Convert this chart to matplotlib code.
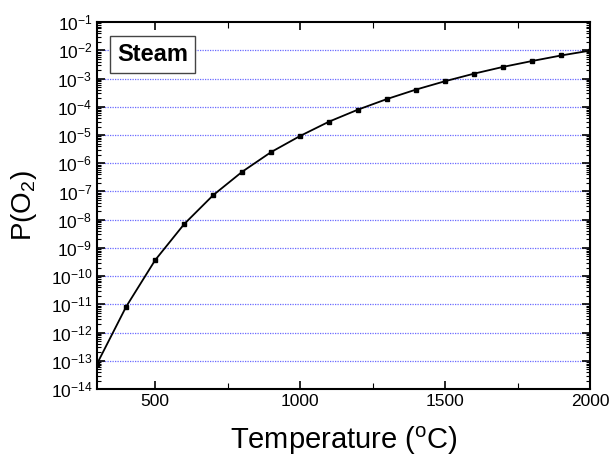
import numpy as np
import matplotlib
matplotlib.use('Agg')
import matplotlib.pyplot as plt
from matplotlib.ticker import LogLocator, NullFormatter, MultipleLocator

plt.rcParams['font.family'] = ['Liberation Sans', 'DejaVu Sans']
plt.rcParams['mathtext.fontset'] = 'custom'
plt.rcParams['mathtext.rm'] = 'Liberation Sans'

temperature = [300, 400, 500, 600, 700, 800, 900, 1000, 1100, 1200, 1300,
               1400, 1500, 1600, 1700, 1800, 1900, 2000]
p_o2 = [8e-14, 8.3e-12, 3.7e-10, 7e-9, 7.4e-8, 5e-7, 2.5e-6, 9.3e-6, 3e-5,
        8e-5, 1.9e-4, 4.1e-4, 8.1e-4, 1.5e-3, 2.6e-3, 4.2e-3, 6.6e-3, 9.8e-3]
grid_levels = [1e-13, 1e-12, 1e-11, 1e-10, 1e-9, 1e-8, 1e-7, 1e-6, 1e-5,
               1e-4, 1e-3, 1e-2]

fig = plt.figure(figsize=(6.11, 4.61), dpi=100)
ax = fig.add_axes([0.159, 0.156, 0.807, 0.796])

for g in grid_levels:
    ax.axhline(g, color='#6a6aff', linestyle=(0, (1, 1)), linewidth=0.9, zorder=1)

ax.plot(temperature, p_o2, color='black', linewidth=1.3, marker='s',
        markersize=3.5, zorder=3)

ax.set_yscale('log')
ax.set_xlim(300, 2000)
ax.set_ylim(1e-14, 1e-1)
ax.xaxis.set_major_locator(MultipleLocator(500))
ax.xaxis.set_minor_locator(MultipleLocator(250))
ax.yaxis.set_major_locator(LogLocator(base=10, numticks=20))
ax.yaxis.set_minor_locator(LogLocator(base=10, subs=np.arange(2, 10), numticks=20))
ax.yaxis.set_minor_formatter(NullFormatter())
ax.tick_params(which='both', direction='in', top=True, right=True, labelsize=12.5)
ax.tick_params(which='major', length=6, width=1.2)
ax.tick_params(which='minor', length=3, width=0.8)
ax.tick_params(axis='x', which='minor', length=4)
for s in ax.spines.values():
    s.set_linewidth(1.5)

ax.set_xlabel('Temperature ($\\mathregular{^oC}$)', fontsize=21, labelpad=11)
ax.set_ylabel('P(O$\\mathregular{_2}$)', fontsize=20, labelpad=8)

ax.text(0.04, 0.943, 'Steam', transform=ax.transAxes, fontsize=17,
        fontweight='bold', ha='left', va='top',
        bbox=dict(boxstyle='square,pad=0.3', facecolor='white',
                  edgecolor='#444444', linewidth=1.0))

fig.savefig('out.png', dpi=100)
